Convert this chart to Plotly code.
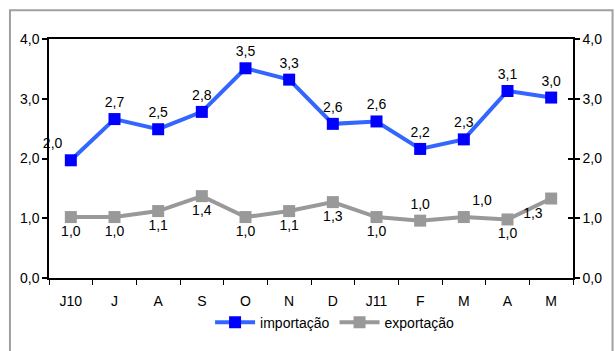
import plotly.graph_objects as go

# Monthly series, Jun/2010 to May/2011
months = ["J10", "J", "A", "S", "O", "N", "D", "J11", "F", "M", "A", "M"]
importacao = [1.97, 2.66, 2.49, 2.78, 3.51, 3.32, 2.58, 2.62, 2.16, 2.32, 3.13, 3.02]
exportacao = [1.02, 1.02, 1.12, 1.37, 1.02, 1.12, 1.27, 1.02, 0.96, 1.02, 0.98, 1.33]
y_ticks = [0, 1, 2, 3, 4]

x = list(range(len(months)))

imp_pos = ["top left"] + ["top center"] * 11
exp_pos = ["bottom center", "bottom center", "bottom center", "bottom center",
           "bottom center", "bottom center", "bottom center", "bottom center",
           "top center", "top right", "bottom center", "bottom left"]

FONT = "Liberation Sans, Arial, sans-serif"

fig = go.Figure()
fig.add_trace(go.Scatter(
    x=x, y=importacao, name="importação", mode="lines+markers+text",
    line=dict(color="#3366FF", width=4),
    marker=dict(symbol="square", size=12, color="#0000FF"),
    text=importacao, texttemplate="%{y:.1f}", textposition=imp_pos,
    textfont=dict(family=FONT, size=14, color="#000000"),
    cliponaxis=False,
))
fig.add_trace(go.Scatter(
    x=x, y=exportacao, name="exportação", mode="lines+markers+text",
    line=dict(color="#999999", width=4),
    marker=dict(symbol="square", size=12, color="#999999"),
    text=exportacao, texttemplate="%{y:.1f}", textposition=exp_pos,
    textfont=dict(family=FONT, size=14, color="#000000"),
    cliponaxis=False, yaxis="y2",
))

axis_y = dict(range=[0, 4], tickvals=y_ticks, tickformat=".1f",
              showgrid=False, zeroline=False, showline=True,
              linecolor="#000000", linewidth=1.5,
              ticks="outside", ticklen=5, tickcolor="#000000", tickwidth=1.5,
              tickfont=dict(family=FONT, size=14, color="#000000"))

fig.update_layout(
    width=615, height=351,
    margin=dict(l=49, r=42, t=39, b=71),
    paper_bgcolor="#FFFFFF", plot_bgcolor="#FFFFFF",
    separators=",.",
    font=dict(family=FONT, size=14, color="#000000"),
    xaxis=dict(range=[-0.5, 11.5], tickvals=x, ticktext=months,
               showgrid=False, zeroline=False, showline=True, mirror=True,
               linecolor="#000000", linewidth=1.5, ticks="",
               ticklabelstandoff=9,
               minor=dict(tick0=-0.5, dtick=1, ticks="outside", ticklen=5,
                          tickcolor="#000000", tickwidth=1, showgrid=False),
               tickfont=dict(family=FONT, size=14, color="#000000")),
    yaxis=axis_y,
    yaxis2=dict(axis_y, overlaying="y", side="right", ticks="outside"),
    yaxis3=dict(axis_y, overlaying="y", side="right", ticks="inside",
                showticklabels=False),
    showlegend=True,
    legend=dict(orientation="h", x=0.545, xanchor="center", y=-0.187,
                yanchor="middle", font=dict(family=FONT, size=14),
                bgcolor="rgba(0,0,0,0)", itemwidth=40, tracegroupgap=0),
    shapes=[dict(type="rect", xref="paper", yref="paper",
                 x0=-0.0745, x1=1.0755, y0=-0.40, y1=1.1203,
                 line=dict(color="#A0A0A0", width=2), layer="below")],
)
# empty trace so the inner-tick right axis is drawn
fig.add_trace(go.Scatter(x=[], y=[], yaxis="y3", showlegend=False,
                         hoverinfo="skip"))

fig.write_html("out.html")
